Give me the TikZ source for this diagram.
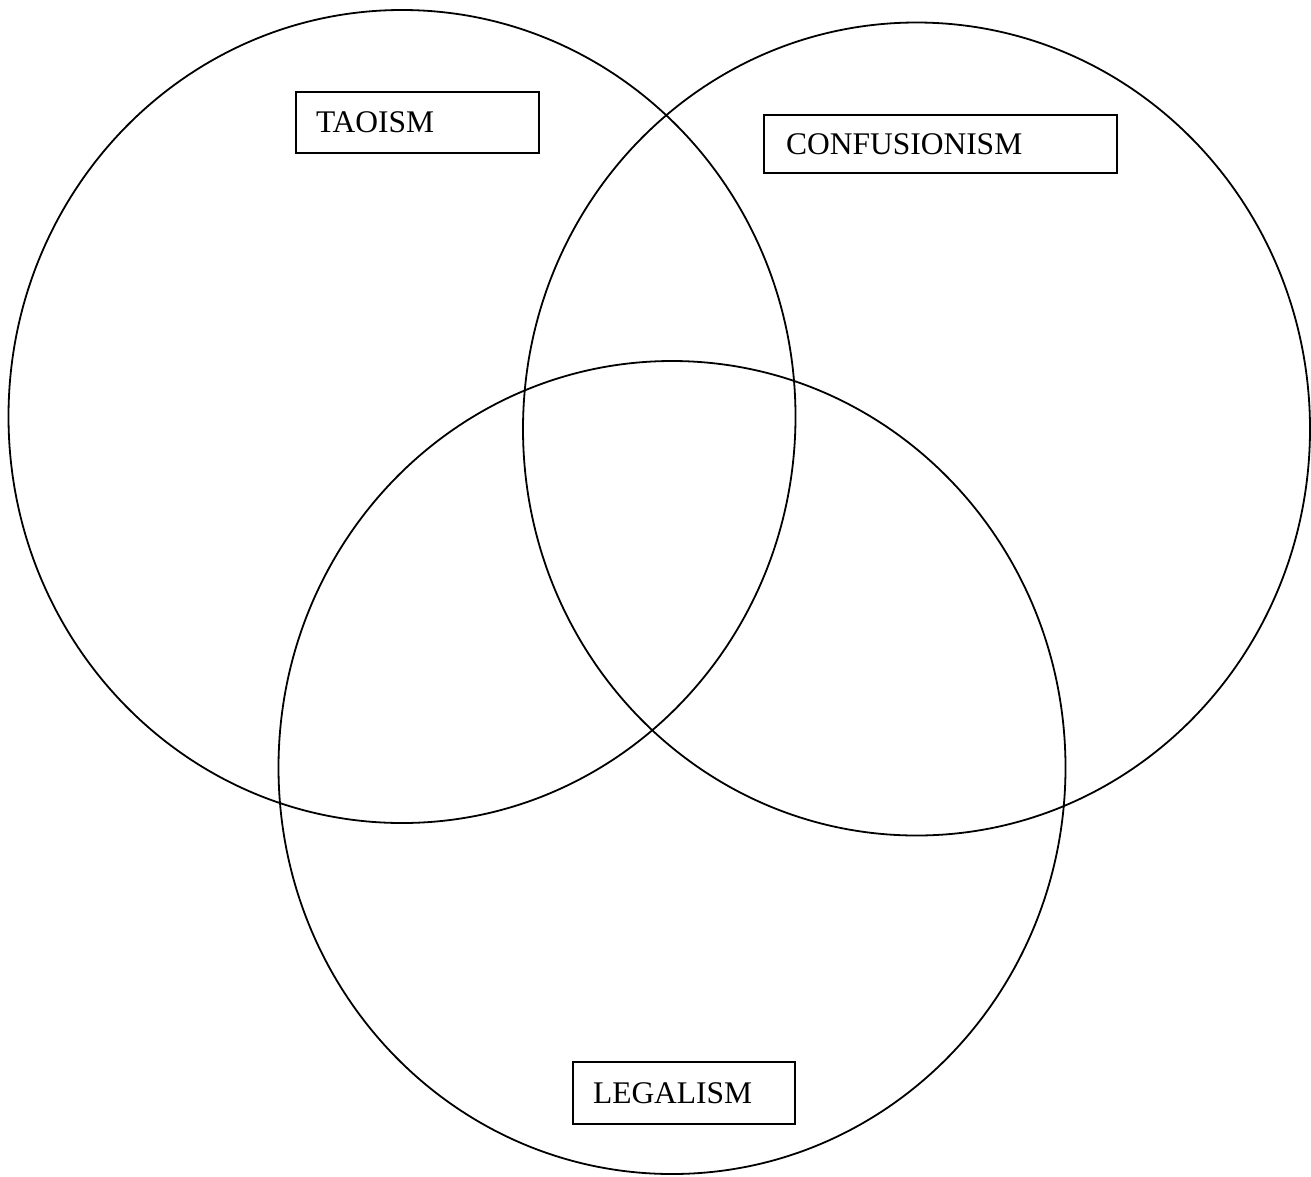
\documentclass[tikz,border=0pt]{standalone}
\usepackage{fontspec}
\setmainfont{Liberation Serif}
\usetikzlibrary{shapes.geometric}
\begin{document}
\begin{tikzpicture}[x=1pt,y=-1pt,font=\fontsize{31.5}{36}\selectfont]
    \tikzstyle{ring}=[ellipse,draw,line width=1.8pt,inner sep=0pt,outer sep=0pt,minimum width=787pt,minimum height=813pt];
    \tikzstyle{namebox}=[rectangle,draw,line width=1.2pt,inner xsep=20pt,inner ysep=0pt,align=left,outer sep=0pt];

    \useasboundingbox (0,0) rectangle (1311,1176);

    \node[ring] (tao) at (402,416.5) {};
    \node[ring] (conf) at (916.5,429) {};
    \node[ring] (legal) at (672,767.5) {};

    \node[namebox,text width=203pt,minimum height=61pt] (taobox) at (417.5,122.5) {TAOISM};
    \node[namebox,inner xsep=22pt,text width=309pt,minimum height=58pt] (confbox) at (940.5,144) {CONFUSIONISM};
    \node[namebox,text width=182pt,minimum height=62pt] (legalbox) at (684,1093) {LEGALISM};
\end{tikzpicture}
\end{document}
